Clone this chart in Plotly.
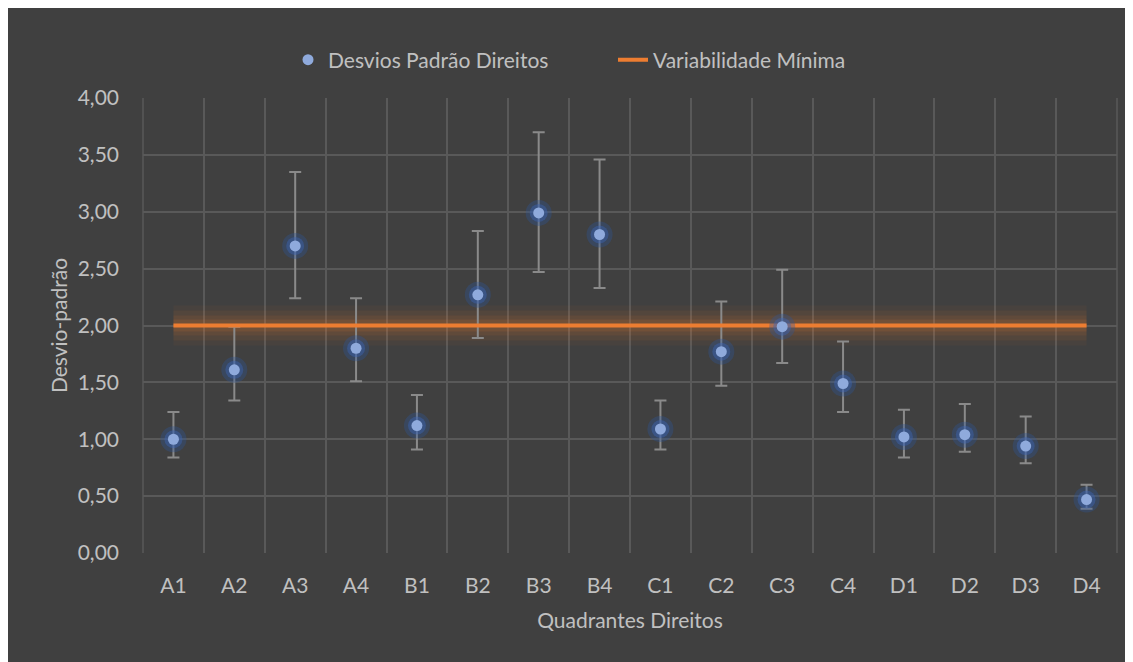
import plotly.graph_objects as go

categories = ["A1","A2","A3","A4","B1","B2","B3","B4","C1","C2","C3","C4","D1","D2","D3","D4"]
desvios = [1.00,1.61,2.70,1.80,1.12,2.27,2.99,2.80,1.09,1.77,1.99,1.49,1.02,1.04,0.94,0.47]
err_plus = [0.24,0.38,0.65,0.44,0.27,0.56,0.71,0.66,0.25,0.44,0.50,0.37,0.24,0.27,0.26,0.13]
err_minus = [0.16,0.27,0.46,0.29,0.21,0.38,0.52,0.47,0.18,0.30,0.32,0.25,0.18,0.15,0.15,0.08]
variabilidade_minima = [2.00] * len(categories)

FONT = "Lato"
TXT = "#c0c0c0"
FS = 21
GRID = "#595959"

fig = go.Figure()

# orange line glow
for w, a in [(40, 0.05), (30, 0.07), (20, 0.09), (12, 0.12)]:
    fig.add_trace(go.Scatter(x=categories, y=variabilidade_minima, mode="lines",
                             line=dict(color=f"rgba(237,125,49,{a})", width=w),
                             showlegend=False, hoverinfo="skip"))
# error bars
fig.add_trace(go.Scatter(x=categories, y=desvios, mode="markers",
                         marker=dict(size=1, color="rgba(0,0,0,0)"),
                         error_y=dict(type="data", symmetric=False, array=err_plus,
                                      arrayminus=err_minus, color="#8a8a8a",
                                      thickness=2, width=6),
                         showlegend=False, hoverinfo="skip"))
fig.add_trace(go.Scatter(x=categories, y=variabilidade_minima, mode="lines",
                         name="Variabilidade Mínima",
                         line=dict(color="#ed7d31", width=4)))
# marker glow
fig.add_trace(go.Scatter(x=categories, y=desvios, mode="markers",
                         marker=dict(size=26, color="rgba(47,85,151,0.35)"),
                         showlegend=False, hoverinfo="skip"))
fig.add_trace(go.Scatter(x=categories, y=desvios, mode="markers",
                         marker=dict(size=18, color="rgba(60,100,180,0.45)"),
                         showlegend=False, hoverinfo="skip"))
fig.add_trace(go.Scatter(x=categories, y=desvios, mode="markers",
                         name="Desvios Padrão Direitos",
                         marker=dict(size=11, color="#8faadc")))

W, H = 1125, 654
L, R, T, B = 135, 16, 90, 109
pw, ph = W - L - R, H - T - B

fig.update_layout(
    width=W, height=H,
    margin=dict(l=L, r=R, t=T, b=B, autoexpand=False),
    paper_bgcolor="#404040", plot_bgcolor="#404040",
    separators=", ",
    font=dict(family=FONT, color=TXT, size=FS),
    legend=dict(orientation="h", x=(280 - L) / pw, xanchor="left",
                y=(H - B - 52) / ph, yanchor="middle",
                font=dict(size=FS, color=TXT), traceorder="reversed",
                entrywidth=280, entrywidthmode="pixels",
                bgcolor="rgba(0,0,0,0)"),
    xaxis=dict(type="category", tickson="boundaries", range=[-0.5, 15.5], automargin=False,
               showgrid=True, gridcolor=GRID, gridwidth=1.5, ticks="", showline=False,
               zeroline=False, tickfont=dict(size=FS, color=TXT), ticklabelstandoff=18,
               title=dict(text="Quadrantes Direitos", font=dict(size=FS, color=TXT), standoff=17)),
    yaxis=dict(range=[0, 4], tickvals=[0, 0.5, 1, 1.5, 2, 2.5, 3, 3.5, 4], automargin=False,
               tickformat=".2f", showgrid=True, gridcolor=GRID, gridwidth=1.5,
               zeroline=False, showline=False, ticks="", ticklabelstandoff=23,
               tickfont=dict(size=FS, color=TXT),
               title=dict(text="Desvio-padrão", font=dict(size=FS, color=TXT), standoff=4)),
    shapes=[
        dict(type="line", xref="paper", yref="paper", x0=0, x1=0, y0=0, y1=1,
             line=dict(color=GRID, width=1.5), layer="below"),
        dict(type="line", xref="paper", yref="paper", x0=1, x1=1, y0=0, y1=1,
             line=dict(color=GRID, width=1.5), layer="below"),
    ],
)

fig.write_html("out.html")
